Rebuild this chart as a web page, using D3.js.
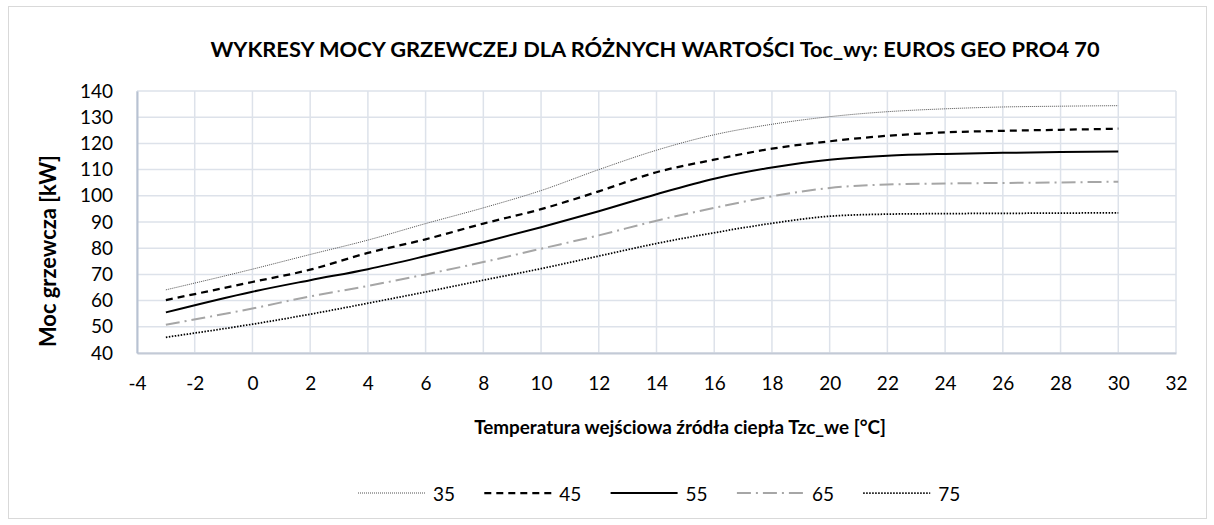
<!DOCTYPE html>
<html>
<head>
<meta charset="utf-8">
<script src="https://cdn.jsdelivr.net/npm/d3@7"></script>
<style>
  body { margin: 0; background: #fff; }
  text { font-family: Lato, "Open Sans", sans-serif; fill: #000; }
</style>
</head>
<body>
<svg id="chart" width="1214" height="525"></svg>
<script>
// temperatura wejsciowa (x) i moc grzewcza dla kolejnych Toc_wy
const temps = [-3, 0, 2, 4, 6, 8, 10, 12, 14, 16, 18, 20, 22, 24, 26, 28, 30];
const s35 = [64.1, 72, 77.6, 83.1, 89.4, 95.4, 102, 110, 117.4, 123.3, 127.3, 130.2, 132.1, 133.2, 133.9, 134.2, 134.4];
const s45 = [60.2, 67.1, 71.8, 78.2, 83.4, 89.4, 94.9, 101.7, 109, 113.8, 118, 120.8, 122.9, 124.2, 124.8, 125.2, 125.6];
const s55 = [55.5, 63.4, 67.8, 72, 77, 82.3, 88, 94.1, 100.6, 106.5, 110.8, 113.8, 115.3, 116, 116.4, 116.7, 116.9];
const s65 = [50.8, 57, 61.6, 65.6, 70, 74.7, 79.8, 84.9, 90.5, 95.4, 99.8, 103, 104.3, 104.7, 104.9, 105.1, 105.4];
const s75 = [46, 51, 54.8, 59, 63.3, 67.8, 72.2, 77, 81.8, 85.9, 89.5, 92.2, 93, 93.2, 93.3, 93.4, 93.5];
const seriesNames = ["35", "45", "55", "65", "75"];
const xTicks = d3.range(-4, 33, 2);
const yTicks = d3.range(40, 141, 10);

const title = "WYKRESY MOCY GRZEWCZEJ DLA RÓŻNYCH WARTOŚCI Toc_wy: EUROS GEO PRO4 70";
const xTitle = "Temperatura wejściowa źródła ciepła Tzc_we [°C]";
const yTitle = "Moc grzewcza [kW]";

const series = [s35, s45, s55, s65, s75];
// styl linii jak w Excelu
const styles = [
  { color: "#505050", width: 1, dash: "1,1" },
  { color: "#000", width: 2.25, dash: "7,5" },
  { color: "#000", width: 2, dash: null },
  { color: "#a6a6a6", width: 2, dash: "14,5,2,5" },
  { color: "#000", width: 1.75, dash: "1.5,1.5" }
];

const svg = d3.select("#chart");
const plotL = 137, plotR = 1176, plotT = 91, plotB = 353;

// ramka wykresu
svg.append("rect")
  .attr("x", 8.5).attr("y", 6.5).attr("width", 1198).attr("height", 512)
  .attr("fill", "#fff").attr("stroke", "#d9d9d9");

const x = d3.scaleLinear().domain([-4, 32]).range([plotL, plotR]);
const y = d3.scaleLinear().domain([40, 140]).range([plotB, plotT]);

// siatka
const grid = svg.append("g");
grid.selectAll(".vg").data(xTicks).enter().append("line")
  .attr("x1", d => x(d)).attr("x2", d => x(d))
  .attr("y1", plotT).attr("y2", plotB)
  .attr("stroke", "#dde2ea").attr("stroke-width", 1.5);
grid.selectAll(".hg").data(yTicks).enter().append("line")
  .attr("x1", plotL).attr("x2", plotR)
  .attr("y1", d => y(d)).attr("y2", d => y(d))
  .attr("stroke", "#dde2ea").attr("stroke-width", 1.5);

// osie (zwykly minus "-" jak w Excelu)
const xAxis = svg.append("g")
  .attr("transform", `translate(0,${plotB})`)
  .call(d3.axisBottom(x).tickValues(xTicks).tickFormat(d => String(d)).tickSize(0).tickPadding(24));
xAxis.select(".domain").attr("stroke", "#c3cad6").attr("stroke-width", 2);
xAxis.selectAll("text").style("font-size", "19px").style("font-family", "Lato");

const yAxis = svg.append("g")
  .attr("transform", `translate(${plotL},0)`)
  .call(d3.axisLeft(y).tickValues(yTicks).tickFormat(d => String(d)).tickSize(0).tickPadding(24));
yAxis.select(".domain").attr("stroke", "#b8c2d2").attr("stroke-width", 2);
yAxis.selectAll("text").style("font-size", "19px").style("font-family", "Lato");

// linie serii
const line = d3.line()
  .x((d, i) => x(temps[i]))
  .y(d => y(d))
  .curve(d3.curveMonotoneX);

svg.append("g").selectAll("path").data(series).enter().append("path")
  .attr("d", line)
  .attr("fill", "none")
  .attr("stroke", (d, i) => styles[i].color)
  .attr("stroke-width", (d, i) => styles[i].width)
  .attr("stroke-dasharray", (d, i) => styles[i].dash);

// dopasowanie szerokosci tekstu
function fit(sel, w) {
  const n = sel.node();
  const fs = parseFloat(sel.style("font-size"));
  sel.style("font-size", (fs * w / n.getComputedTextLength()) + "px");
}

const t = svg.append("text")
  .attr("x", 655).attr("y", 48).attr("text-anchor", "middle")
  .attr("dominant-baseline", "central")
  .style("font-weight", "bold").style("font-size", "20px")
  .text(title);
fit(t, 890);

const xt = svg.append("text")
  .attr("x", 680).attr("y", 426).attr("text-anchor", "middle")
  .attr("dominant-baseline", "central")
  .style("font-weight", "bold").style("font-size", "20px")
  .text(xTitle);
fit(xt, 412);

const yt = svg.append("text")
  .attr("transform", "translate(47,251) rotate(-90)")
  .attr("text-anchor", "middle")
  .attr("dominant-baseline", "central")
  .style("font-weight", "bold").style("font-size", "20px")
  .text(yTitle);
fit(yt, 192);

// legenda
const legend = svg.append("g").attr("transform", "translate(358,493)");
const item = legend.selectAll("g").data(seriesNames).enter().append("g")
  .attr("transform", (d, i) => `translate(${i * 126.3},0)`);
item.append("line")
  .attr("x1", 0).attr("x2", 67).attr("y1", 0).attr("y2", 0)
  .attr("stroke", (d, i) => styles[i].color)
  .attr("stroke-width", (d, i) => styles[i].width)
  .attr("stroke-dasharray", (d, i) => styles[i].dash);
item.append("text")
  .attr("x", 75).attr("y", 0)
  .attr("dominant-baseline", "central")
  .style("font-size", "19px")
  .text(d => d);
</script>
</body>
</html>
